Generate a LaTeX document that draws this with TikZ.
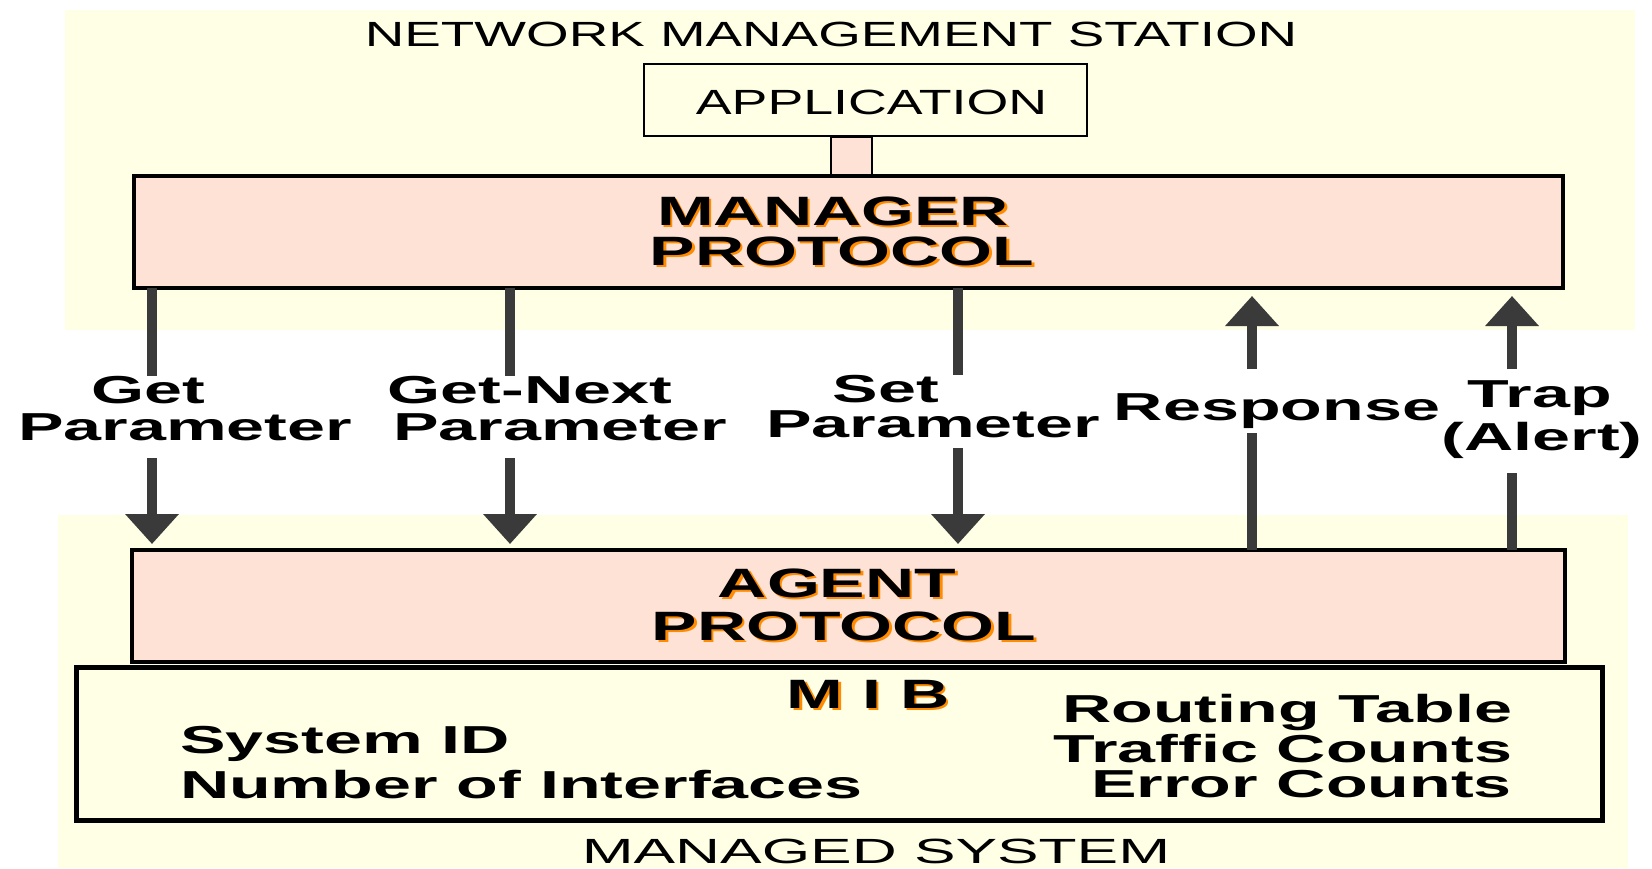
\documentclass[tikz,border=0pt]{standalone}
\usepackage{fontspec}
\setmainfont{Liberation Sans}
\usetikzlibrary{arrows.meta}
\definecolor{cream}{RGB}{255,255,230}
\definecolor{protopink}{RGB}{255,226,214}
\definecolor{shaftgray}{RGB}{58,58,58}
\definecolor{shadeorange}{RGB}{255,140,0}
% text with an orange drop shadow
\newcommand\shd[1]{\rlap{\kern2.5pt\raisebox{-2.5pt}{\color{shadeorange}#1}}#1}
% horizontally widened text
\newcommand\sx[2]{\scalebox{#1}[1]{#2}}

\begin{document}
\begin{tikzpicture}[x=1pt,y=-1pt,
  box/.style={draw=black, anchor=north west, inner sep=0pt, outer sep=0pt},
  thintxt/.style={inner sep=0pt, outer sep=0pt, anchor=base, font=\fontsize{35}{35}\selectfont},
  prototxt/.style={inner sep=0pt, outer sep=0pt, anchor=base, font=\fontsize{41}{41}\selectfont\bfseries},
  lbl/.style={inner sep=0pt, outer sep=0pt, anchor=base, font=\fontsize{39}{39}\selectfont\bfseries},
  shaft/.style={draw=shaftgray, line width=10pt},
  tip/.style={-{Triangle[width=52pt,length=30pt]}}]

\useasboundingbox (0,0) rectangle (1652,868);
\fill[white] (0,0) rectangle (1652,868);

% station and managed-system areas
\fill[cream] (65,10) rectangle (1635,330);
\fill[cream] (58,515) rectangle (1628,868);

% boxes
\node[box, fill=protopink, line width=1.2pt, minimum width=41pt, minimum height=39pt] (stem) at (831,137) {};
\node[box, fill=cream, line width=2.5pt, minimum width=443pt, minimum height=72pt] (app) at (644,64) {};
\node[box, fill=protopink, line width=4pt, minimum width=1429pt, minimum height=112pt] (mgr) at (134,176) {};
\node[box, fill=protopink, line width=4pt, minimum width=1433pt, minimum height=112pt] (agent) at (132,550) {};
\node[box, fill=cream, line width=5pt, minimum width=1526pt, minimum height=153pt] (mib) at (76,667) {};

% titles
\node[thintxt] (nms) at (831,46) {\sx{1.565}{NETWORK MANAGEMENT STATION}};
\node[thintxt] (apptxt) at (871.5,114) {\sx{1.535}{APPLICATION}};
\node[thintxt] (mstxt) at (876,863) {\sx{1.78}{MANAGED SYSTEM}};

% protocol layers
\node[prototxt] (mgrA) at (833,225) {\shd{\sx{1.66}{MANAGER}}};
\node[prototxt] (mgrB) at (842,265) {\shd{\sx{1.66}{PROTOCOL}}};
\node[prototxt] (agA) at (837,597) {\shd{\sx{1.66}{AGENT}}};
\node[prototxt] (agB) at (844,640) {\shd{\sx{1.66}{PROTOCOL}}};
\node[prototxt] (mibt) at (868,708) {\shd{\sx{1.66}{M I B}}};

% MIB contents
\node[lbl, anchor=base west] (sysid) at (180,753) {\sx{1.75}{System ID}};
\node[lbl, anchor=base west] (nif) at (180,798) {\sx{1.75}{Number of Interfaces}};
\node[lbl, anchor=base east] (rt) at (1512,722) {\sx{1.75}{Routing Table}};
\node[lbl, anchor=base east] (tc) at (1512,762) {\sx{1.75}{Traffic Counts}};
\node[lbl, anchor=base east] (ec) at (1512,797) {\sx{1.75}{Error Counts}};

% operation labels
\node[lbl] (getA) at (148,403) {\sx{1.75}{Get}};
\node[lbl] (getB) at (185,440) {\sx{1.75}{Parameter}};
\node[lbl] (nextA) at (530,403) {\sx{1.75}{Get-Next}};
\node[lbl] (nextB) at (560,440) {\sx{1.75}{Parameter}};
\node[lbl] (setA) at (886,402) {\sx{1.75}{Set}};
\node[lbl] (setB) at (933,437) {\sx{1.75}{Parameter}};
\node[lbl] (resp) at (1277,420) {\sx{1.75}{Response}};
\node[lbl] (trapA) at (1540,407) {\sx{1.75}{Trap}};
\node[lbl] (trapB) at (1542,450) {\sx{1.75}{(Alert)}};

% arrow columns
\coordinate (xget) at (152,0);
\coordinate (xnext) at (510,0);
\coordinate (xset) at (958,0);
\coordinate (xresp) at (1252,0);
\coordinate (xtrap) at (1512,0);

% requests: manager -> agent
\draw[shaft] (mgr.south -| xget) -- (getA.north -| xget);
\draw[shaft, tip, shorten <=18pt, shorten >=6pt] (getB.south -| xget) -- (agent.north -| xget);
\draw[shaft] (mgr.south -| xnext) -- (nextA.north -| xnext);
\draw[shaft, tip, shorten <=18pt, shorten >=6pt] (nextB.south -| xnext) -- (agent.north -| xnext);
\draw[shaft] (mgr.south -| xset) -- (setA.north -| xset);
\draw[shaft, tip, shorten <=11pt, shorten >=6pt] (setB.south -| xset) -- (agent.north -| xset);

% replies and traps: agent -> manager
\draw[shaft, shorten >=5pt] (agent.north -| xresp) -- (resp.south -| xresp);
\draw[shaft, tip, shorten <=24pt, shorten >=8pt] (resp.north -| xresp) -- (mgr.south -| xresp);
\draw[shaft, shorten >=15pt] (agent.north -| xtrap) -- (trapB.south -| xtrap);
\draw[shaft, tip, shorten <=11pt, shorten >=8pt] (trapA.north -| xtrap) -- (mgr.south -| xtrap);

\end{tikzpicture}
\end{document}
